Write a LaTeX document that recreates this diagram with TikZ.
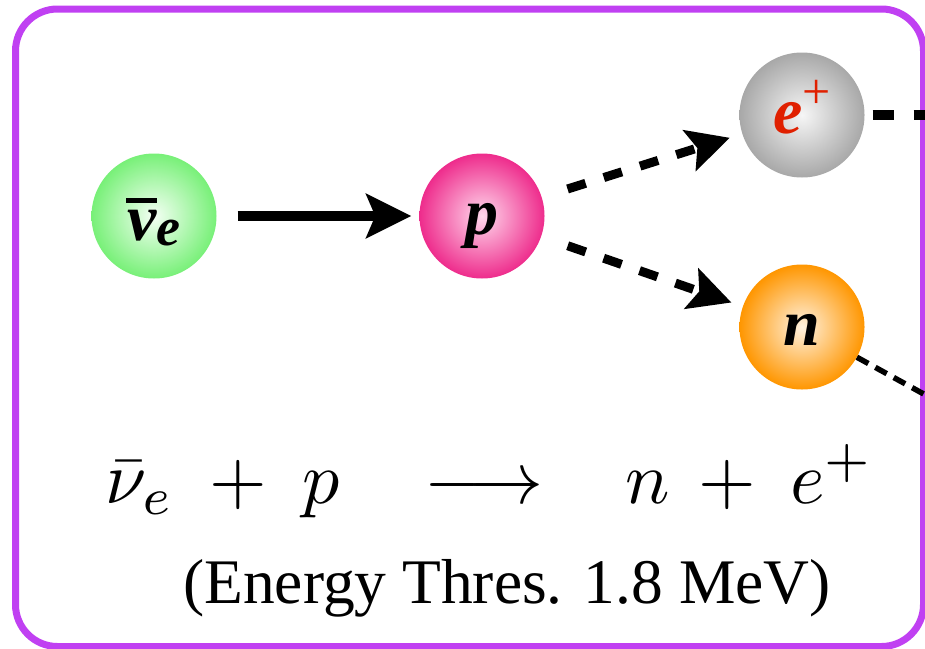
\documentclass[tikz,border=0pt]{standalone}
\usepackage{fontspec}
\setmainfont{Liberation Serif}
\usetikzlibrary{arrows.meta}
\definecolor{frame}{HTML}{C040F2}
\definecolor{gout}{HTML}{78F078}
\definecolor{gin}{HTML}{F4FFF4}
\definecolor{pout}{HTML}{EE2C8C}
\definecolor{pin}{HTML}{FFD8EC}
\definecolor{sout}{HTML}{A8A8A8}
\definecolor{sin}{HTML}{F6F6F6}
\definecolor{oout}{HTML}{FF9600}
\definecolor{oin}{HTML}{FFF2E0}
\definecolor{ered}{HTML}{E02000}
\newcommand{\eqbig}[1]{\scalebox{7.4}{$#1$}}
\tikzset{
  ball/.style={circle, minimum size=125pt, inner sep=0pt,
    font=\fontsize{66}{66}\selectfont\bfseries\itshape,
    text height=36pt, text depth=0pt},
  solidarrow/.style={line width=10pt, -{Stealth[length=45pt,width=44pt,inset=9pt]}},
  dasharrow/.style={line width=9pt, dash pattern=on 19pt off 19pt,
    -{Stealth[length=42pt,width=42pt,inset=8pt]}},
  eqtext/.style={anchor=base, inner sep=0pt},
}
\begin{document}
\begin{tikzpicture}[x=1pt,y=-1pt]
\useasboundingbox (0,0) rectangle (925,648);
% frame
\draw[frame, line width=7pt, rounded corners=42pt] (15.5,9) rectangle (923.5,646.5);
% particles
\node[ball, inner color=gin, outer color=gout, text height=48pt] (nu) at (154,216)
  {\rlap{\hspace{-1pt}\rule[37pt]{31pt}{5pt}}ν\raisebox{-5pt}{\fontsize{54}{54}\selectfont e}};
\node[ball, inner color=pin, outer color=pout] (p) at (482,216) {p};
\node[ball, inner color=sin, outer color=sout] (e) at (802,115)
  {\textcolor{ered}{e\raisebox{25pt}{\fontsize{50}{50}\selectfont\mdseries\upshape +}}};
\node[ball, inner color=oin, outer color=oout] (n) at (802,327) {n};
% connectors
\draw[solidarrow, shorten <=21pt, shorten >=8pt] (nu) -- (p);
\draw[dasharrow, shorten <=27pt, shorten >=13pt] (p) -- (e);
\draw[dasharrow, shorten <=28pt, shorten >=12pt] (p) -- (n);
\coordinate (eout) at (960,115);
\coordinate (nout) at (1000,436);
\draw[line width=10pt, dash pattern=on 21pt off 20pt, shorten <=8pt] (e) -- (eout);
\draw[line width=5.5pt, dash pattern=on 13pt off 8pt] (n) -- (nout);
% equation
\node[eqtext] (eq1) at (140,503) {\eqbig{\bar{\nu}_e}};
\node[eqtext] (eq2) at (238,503) {\eqbig{+}};
\node[eqtext] (eq3) at (321,503) {\eqbig{p}};
\node[eqtext] (eq4) at (484,503) {\eqbig{\longrightarrow}};
\node[eqtext] (eq5) at (648,503) {\eqbig{n}};
\node[eqtext] (eq6) at (727,503) {\eqbig{+}};
\node[eqtext] (eq7) at (832,503) {\eqbig{e^{+}}};
\node[anchor=base, inner sep=0pt, font=\fontsize{63.5}{63.5}\selectfont] (cap) at (507,603)
  {(Energy Thres. 1.8 MeV)};
\end{tikzpicture}
\end{document}
